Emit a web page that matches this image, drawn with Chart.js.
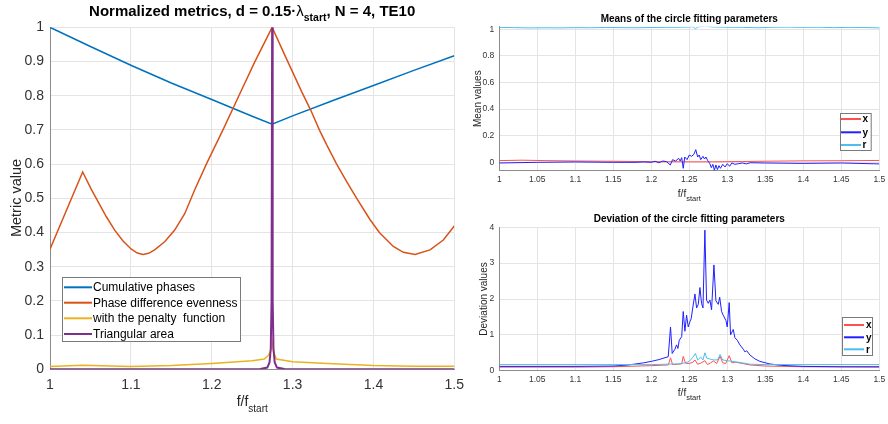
<!DOCTYPE html>
<html>
<head>
<meta charset="utf-8">
<script src="https://cdn.jsdelivr.net/npm/chart.js@4.4.0/dist/chart.umd.min.js"></script>
<style>
  body { margin: 0; background: #fff; }
  #wrap { position: relative; width: 888px; height: 424px; overflow: hidden; background: #fff; }
  canvas { position: absolute; }
</style>
</head>
<body>
<div id="wrap">
  <canvas id="metricsChart" width="480" height="424" style="left:0;top:0"></canvas>
  <canvas id="meanChart" width="428" height="206" style="left:460px;top:0"></canvas>
  <canvas id="devChart" width="428" height="224" style="left:460px;top:200px"></canvas>
</div>
<script>
const FONT = '"Liberation Sans", Arial, Helvetica, sans-serif';

// Left chart: normalized metrics
const metricLabels = ['Cumulative phases', 'Phase difference evenness', 'with the penalty  function', 'Triangular area'];
const metricXTicks = [1, 1.1, 1.2, 1.3, 1.4, 1.5];
const metricYTicks = [0, 0.1, 0.2, 0.3, 0.4, 0.5, 0.6, 0.7, 0.8, 0.9, 1];

const cumF = [1, 1.05, 1.1, 1.15, 1.2, 1.25, 1.2747, 1.3, 1.35, 1.4, 1.45, 1.5];
const cumV = [1, 0.944, 0.889, 0.837, 0.789, 0.740, 0.717, 0.741, 0.786, 0.830, 0.874, 0.917];

const evenF = [1, 1.0404, 1.0511, 1.0594, 1.0697, 1.080, 1.0903, 1.1006, 1.108, 1.115, 1.122, 1.1294, 1.1418,
  1.1542, 1.1666, 1.179, 1.1938, 1.2145, 1.2336, 1.2531, 1.2747, 1.2905, 1.3112, 1.3224, 1.3331, 1.3422, 1.3545,
  1.3669, 1.3793, 1.3957, 1.4073, 1.4246, 1.437, 1.4514, 1.470, 1.4864, 1.5];
const evenV = [0.351, 0.577, 0.526, 0.490, 0.446, 0.407, 0.375, 0.351, 0.340, 0.336, 0.339, 0.349, 0.373,
  0.407, 0.455, 0.525, 0.602, 0.703, 0.800, 0.898, 1.000, 0.918, 0.812, 0.758, 0.700, 0.656, 0.600,
  0.549, 0.500, 0.438, 0.400, 0.359, 0.342, 0.336, 0.349, 0.378, 0.419];

const penF = [1, 1.04, 1.1, 1.15, 1.2, 1.25, 1.265, 1.27, 1.273, 1.2747, 1.2765, 1.28, 1.3, 1.35, 1.4, 1.45, 1.5];
const penV = [0.008, 0.012, 0.008, 0.011, 0.017, 0.025, 0.03, 0.04, 0.055, 0.08, 0.05, 0.03, 0.022, 0.016, 0.011, 0.009, 0.009];

const triF = [1, 1.2, 1.26, 1.2687, 1.2715, 1.273, 1.274, 1.2747, 1.2754, 1.2764, 1.2779, 1.2807, 1.29, 1.5];
const triV = [0, 0, 0.001, 0.005, 0.02, 0.06, 0.2, 1.0, 0.2, 0.06, 0.02, 0.005, 0.001, 0];

// Right charts: circle fitting parameters
const fitLabels = ['x', 'y', 'r'];
const fitXTicks = [1, 1.05, 1.1, 1.15, 1.2, 1.25, 1.3, 1.35, 1.4, 1.45, 1.5];
const meanYTicks = [0, 0.2, 0.4, 0.6, 0.8, 1];
const devYTicks = [0, 1, 2, 3, 4];

const meanXF = [1, 1.03, 1.06, 1.1, 1.15, 1.2, 1.25, 1.28, 1.32, 1.36, 1.4, 1.45, 1.5];
const meanXV = [0.013, 0.016, 0.013, 0.01, 0.008, 0.005, 0.004, 0.004, 0.006, 0.009, 0.011, 0.012, 0.014];

const meanYF = [1, 1.05, 1.1, 1.15, 1.18, 1.19, 1.2, 1.205, 1.21, 1.215, 1.22, 1.225, 1.228, 1.232, 1.236, 1.238,
  1.24, 1.242, 1.244, 1.247, 1.25, 1.253, 1.256, 1.2585, 1.261, 1.263, 1.265, 1.268, 1.27, 1.272, 1.274, 1.277,
  1.279, 1.281, 1.283, 1.285, 1.287, 1.289, 1.291, 1.294, 1.297, 1.3, 1.303, 1.306, 1.31, 1.315, 1.32, 1.325,
  1.33, 1.35, 1.4, 1.45, 1.5];
const meanYV = [-0.005, 0, 0.003, 0, 0, 0.003, 0, 0.008, -0.003, 0.01, 0.005, -0.02, 0.02, 0.01, 0.03, 0.01,
  0.035, -0.045, 0.04, 0.02, 0.055, 0.045, 0.06, 0.095, 0.04, 0.055, 0.02, 0.045, 0.025, 0.04, 0.015, -0.01,
  -0.04, -0.015, -0.06, -0.02, -0.055, -0.025, -0.045, -0.015, -0.035, -0.01, -0.03, -0.005, -0.015, -0.01, -0.005, -0.012,
  -0.003, -0.005, -0.008, -0.005, -0.012];

const meanRF = [1, 1.02, 1.04, 1.06, 1.08, 1.1, 1.12, 1.14, 1.16, 1.18, 1.2, 1.22, 1.24, 1.25, 1.255, 1.258, 1.261,
  1.27, 1.28, 1.3, 1.32, 1.34, 1.36, 1.38, 1.4, 1.42, 1.44, 1.46, 1.48, 1.5];
const meanRV = [1.015, 1.013, 1.011, 1.012, 1.011, 1.013, 1.012, 1.014, 1.013, 1.012, 1.014, 1.015, 1.016, 1.018, 1.02, 1.004, 1.018,
  1.025, 1.018, 1.016, 1.015, 1.012, 1.016, 1.017, 1.015, 1.016, 1.013, 1.015, 1.014, 1.011];

const devXF = [1, 1.1, 1.15, 1.2, 1.2223, 1.2253, 1.228, 1.235, 1.24, 1.242, 1.245, 1.25, 1.255, 1.2574, 1.261, 1.265,
  1.2705, 1.274, 1.278, 1.282, 1.286, 1.2905, 1.294, 1.298, 1.3025, 1.306, 1.31, 1.32, 1.33, 1.35, 1.4, 1.5];
const devXV = [0.1, 0.1, 0.11, 0.14, 0.16, 0.36, 0.17, 0.18, 0.19, 0.4, 0.21, 0.2, 0.24, 0.3, 0.18, 0.21,
  0.28, 0.17, 0.22, 0.27, 0.2, 0.4, 0.22, 0.2, 0.42, 0.22, 0.24, 0.2, 0.16, 0.13, 0.11, 0.1];

const devYF = [1, 1.05, 1.1, 1.15, 1.17, 1.19, 1.2, 1.21, 1.2223, 1.2253, 1.2275, 1.2311, 1.2332, 1.235, 1.2368, 1.24,
  1.242, 1.2442, 1.2464, 1.2486, 1.2508, 1.2525, 1.2543, 1.2574, 1.2596, 1.2618, 1.264, 1.2661, 1.268, 1.2705, 1.2727, 1.2749,
  1.2771, 1.2793, 1.2824, 1.285, 1.2881, 1.29, 1.2925, 1.2946, 1.2982, 1.2999, 1.3025, 1.3043, 1.3078, 1.31, 1.3131, 1.3166,
  1.321, 1.3235, 1.3254, 1.3297, 1.3363, 1.3429, 1.3556, 1.37, 1.4, 1.45, 1.5];
const devYV = [0.12, 0.12, 0.12, 0.13, 0.16, 0.22, 0.26, 0.31, 0.39, 1.22, 0.48, 0.6, 0.72, 0.62, 0.85, 0.95,
  1.65, 1.1, 1.55, 1.22, 1.37, 1.45, 1.72, 2.14, 1.75, 1.85, 2.32, 1.88, 1.75, 3.92, 1.97, 1.88,
  1.97, 1.7, 2.95, 1.95, 1.85, 2.05, 1.65, 1.55, 1.4, 1.22, 1.9, 1.0, 1.15, 0.92, 0.85, 0.72,
  0.6, 0.52, 0.56, 0.44, 0.33, 0.26, 0.19, 0.15, 0.12, 0.11, 0.11];

const devRF = [1, 1.2, 1.235, 1.245, 1.25, 1.255, 1.258, 1.261, 1.265, 1.268, 1.2705, 1.273, 1.278, 1.282, 1.287,
  1.2905, 1.294, 1.3, 1.31, 1.32, 1.33, 1.35, 1.5];
const devRV = [0.17, 0.17, 0.19, 0.22, 0.26, 0.38, 0.48, 0.3, 0.38, 0.3, 0.5, 0.35, 0.32, 0.3, 0.3,
  0.45, 0.3, 0.28, 0.25, 0.22, 0.18, 0.17, 0.17];

const toPoints = (xs, ys) => xs.map((x, i) => ({ x: x, y: ys[i] }));

// Draw text pieces (with sub scripts) centered on x, at baseline y
function drawParts(ctx, parts, x, y) {
  let total = 0;
  parts.forEach(p => { ctx.font = p.font; p.w = ctx.measureText(p.text).width; total += p.w; });
  let cx = x - total / 2;
  ctx.textAlign = 'left';
  ctx.textBaseline = 'alphabetic';
  parts.forEach(p => {
    ctx.font = p.font;
    ctx.fillText(p.text, cx, y + (p.dy || 0));
    cx += p.w;
  });
}

function drawLegend(chart, box) {
  const ctx = chart.ctx;
  ctx.fillStyle = '#fff';
  ctx.fillRect(box.x, box.y, box.w, box.h);
  ctx.strokeStyle = '#7a7a7a';
  ctx.lineWidth = 1;
  ctx.strokeRect(box.x + 0.5, box.y + 0.5, box.w, box.h);
  box.rows.forEach((y, k) => {
    const ds = chart.data.datasets[k];
    ctx.strokeStyle = ds.borderColor;
    ctx.lineWidth = box.lineWidth;
    ctx.beginPath();
    ctx.moveTo(box.lineX0, y);
    ctx.lineTo(box.lineX1, y);
    ctx.stroke();
    ctx.fillStyle = '#000';
    ctx.font = box.font;
    ctx.textAlign = 'left';
    ctx.textBaseline = 'middle';
    ctx.fillText(ds.label, box.textX, y + 0.5);
  });
}

// Titles, axis labels and legend drawn on top of each chart
function makeOverlay(cfg) {
  return {
    id: 'overlay',
    afterDraw(chart) {
      const ctx = chart.ctx;
      ctx.save();
      ctx.fillStyle = '#000';
      drawParts(ctx, cfg.title, cfg.titleX, cfg.titleY);
      ctx.fillStyle = '#262626';
      drawParts(ctx, cfg.xLabel, cfg.titleX, cfg.xLabelY);
      ctx.save();
      ctx.translate(cfg.yLabelX, cfg.yLabelY);
      ctx.rotate(-Math.PI / 2);
      drawParts(ctx, cfg.yLabel, 0, 0);
      ctx.restore();
      drawLegend(chart, cfg.legend);
      ctx.restore();
    }
  };
}

function makeScales(o) {
  const tickFont = { family: FONT, size: o.fontSize };
  const common = {
    type: 'linear',
    grid: { color: '#e4e4e4', lineWidth: 1, drawTicks: false },
    border: { color: '#8c8c8c', width: 1 }
  };
  return {
    x: {
      ...common,
      min: o.xMin, max: o.xMax,
      afterBuildTicks: s => { s.ticks = o.xTicks.map(v => ({ value: v })); },
      afterFit: s => { s.height = o.xHeight; s.paddingLeft = 0; s.paddingRight = 0; },
      ticks: { color: '#333', font: tickFont, padding: o.xPad, autoSkip: false, maxRotation: 0, minRotation: 0, callback: v => String(v) }
    },
    y: {
      ...common,
      min: o.yMin, max: o.yMax,
      afterBuildTicks: s => { s.ticks = o.yTicks.map(v => ({ value: v })); },
      afterFit: s => { s.width = o.yWidth; s.paddingTop = 0; s.paddingBottom = 0; },
      ticks: { color: '#333', font: tickFont, padding: o.yPad, autoSkip: false, callback: v => String(v) }
    }
  };
}

function lineSet(label, xs, ys, color, width, order) {
  return {
    label: label,
    data: toPoints(xs, ys),
    borderColor: color,
    borderWidth: width,
    pointRadius: 0,
    tension: 0,
    fill: false,
    order: order
  };
}

function baseOptions(padding, scales) {
  return {
    responsive: false,
    animation: false,
    events: [],
    layout: { padding: padding },
    plugins: { legend: { display: false }, tooltip: { enabled: false }, title: { display: false } },
    scales: scales
  };
}

function initCharts() {
  // Left chart
  new Chart(document.getElementById('metricsChart').getContext('2d'), {
    type: 'line',
    data: {
      datasets: [
        lineSet(metricLabels[0], cumF, cumV, '#0072BD', 1.5, 4),
        lineSet(metricLabels[1], evenF, evenV, '#D95319', 1.5, 3),
        lineSet(metricLabels[2], penF, penV, '#EDB120', 1.5, 2),
        lineSet(metricLabels[3], triF, triV, '#7E2F8E', 2, 1)
      ]
    },
    options: baseOptions({ left: 0, right: 25.7, top: 27.3, bottom: 0 }, makeScales({
      xMin: 1, xMax: 1.5, yMin: 0, yMax: 1, xTicks: metricXTicks, yTicks: metricYTicks,
      fontSize: 14, xHeight: 54.7, yWidth: 50, xPad: 7, yPad: 6
    })),
    plugins: [makeOverlay({
      titleX: 252.2, titleY: 15.5, xLabelY: 406, yLabelX: 20.5, yLabelY: 198,
      title: [
        { text: 'Normalized metrics, d = 0.15\u00b7', font: 'bold 15px ' + FONT },
        { text: '\u03bb', font: '15px ' + FONT },
        { text: 'start', font: 'bold 10.5px ' + FONT, dy: 5 },
        { text: ', N = 4, TE10', font: 'bold 15px ' + FONT }
      ],
      xLabel: [
        { text: 'f/f', font: '14px ' + FONT },
        { text: 'start', font: '10px ' + FONT, dy: 6 }
      ],
      yLabel: [{ text: 'Metric value', font: '14.5px ' + FONT }],
      legend: {
        x: 62, y: 277, w: 178, h: 64, rows: [287.3, 302.7, 318.3, 334],
        lineX0: 64, lineX1: 92, textX: 93, lineWidth: 2, font: '12px ' + FONT
      }
    })]
  });

  // Right top chart: means
  new Chart(document.getElementById('meanChart').getContext('2d'), {
    type: 'line',
    data: {
      datasets: [
        lineSet(fitLabels[0], meanXF, meanXV, '#ff5050', 1, 3),
        lineSet(fitLabels[1], meanYF, meanYV, '#2020ff', 1, 2),
        lineSet(fitLabels[2], meanRF, meanRV, '#4DBEEE', 1, 1)
      ]
    },
    options: baseOptions({ left: 0, right: 8.7, top: 26.7, bottom: 0 }, makeScales({
      xMin: 1, xMax: 1.5, yMin: -0.063, yMax: 1.02, xTicks: fitXTicks, yTicks: meanYTicks,
      fontSize: 8.5, xHeight: 35.3, yWidth: 39.3, xPad: 4, yPad: 5
    })),
    plugins: [makeOverlay({
      titleX: 229.3, titleY: 22, xLabelY: 197, yLabelX: 20.7, yLabelY: 98.7,
      title: [{ text: 'Means of the circle fitting parameters', font: 'bold 10px ' + FONT }],
      xLabel: [
        { text: 'f/f', font: '10px ' + FONT },
        { text: 'start', font: '7.5px ' + FONT, dy: 4 }
      ],
      yLabel: [{ text: 'Mean values', font: '10px ' + FONT }],
      legend: {
        x: 380, y: 113, w: 30.7, h: 37, rows: [119, 132.3, 145],
        lineX0: 381, lineX1: 401, textX: 402.5, lineWidth: 2, font: 'bold 10px ' + FONT
      }
    })]
  });

  // Right bottom chart: deviations
  new Chart(document.getElementById('devChart').getContext('2d'), {
    type: 'line',
    data: {
      datasets: [
        lineSet(fitLabels[0], devXF, devXV, '#ff5050', 1, 3),
        lineSet(fitLabels[1], devYF, devYV, '#2020ff', 1, 2),
        lineSet(fitLabels[2], devRF, devRV, '#4DBEEE', 1, 1)
      ]
    },
    options: baseOptions({ left: 0, right: 8.7, top: 27.3, bottom: 0 }, makeScales({
      xMin: 1, xMax: 1.5, yMin: 0, yMax: 4, xTicks: fitXTicks, yTicks: devYTicks,
      fontSize: 8.5, xHeight: 53.3, yWidth: 39.3, xPad: 4, yPad: 5
    })),
    plugins: [makeOverlay({
      titleX: 229.3, titleY: 22, xLabelY: 196, yLabelX: 27, yLabelY: 99,
      title: [{ text: 'Deviation of the circle fitting parameters', font: 'bold 10px ' + FONT }],
      xLabel: [
        { text: 'f/f', font: '10px ' + FONT },
        { text: 'start', font: '7.5px ' + FONT, dy: 4 }
      ],
      yLabel: [{ text: 'Deviation values', font: '10px ' + FONT }],
      legend: {
        x: 382, y: 117, w: 30, h: 38, rows: [125, 137.3, 149.3],
        lineX0: 384, lineX1: 404, textX: 406, lineWidth: 2, font: 'bold 10px ' + FONT
      }
    })]
  });
}

document.addEventListener('DOMContentLoaded', () => {
  initCharts();
});
</script>
</body>
</html>
